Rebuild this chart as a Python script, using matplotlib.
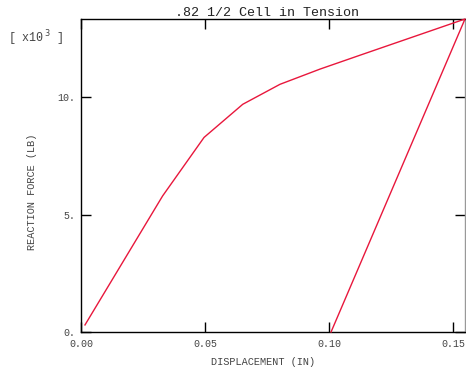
import matplotlib
matplotlib.use("Agg")
import matplotlib.pyplot as plt

# Load-displacement history (force in thousands of lb)
displacement = [0.0016, 0.0329, 0.0496, 0.0652, 0.0802, 0.0964, 0.1125, 0.1548, 0.1008]
force_k = [0.30, 5.79, 8.28, 9.69, 10.54, 11.19, 11.78, 13.32, 0.0]

x_ticks = [0.00, 0.05, 0.10, 0.15]
x_tick_labels = ["0.00", "0.05", "0.10", "0.15"]
y_ticks = [0, 5, 10]
y_tick_labels = ["0.", "5.", "10."]

MONO = ["Liberation Mono", "DejaVu Sans Mono"]
TXT = "#444444"

fig = plt.figure(figsize=(4.66, 3.71), dpi=100)
ax = fig.add_axes([81 / 466, 1 - 332 / 371, 384 / 466, 313 / 371])

ax.plot(displacement, force_k, color="#e8173c", lw=1.0, clip_on=False, zorder=3)

ax.set_xlim(0.0, 0.1548)
ax.set_ylim(0.0, 13.32)

ax.set_xticks(x_ticks)
ax.set_xticklabels(x_tick_labels)
ax.set_yticks(y_ticks)
ax.set_yticklabels(y_tick_labels)
ax.tick_params(direction="in", length=7, width=1.0, color="black",
               top=True, right=True, labelsize=7.2, labelcolor=TXT, pad=4)
ax.tick_params(axis="x", pad=5)
for lab in ax.get_xticklabels() + ax.get_yticklabels():
    lab.set_family(MONO)

for side in ("left", "bottom", "top"):
    ax.spines[side].set_color("black")
    ax.spines[side].set_linewidth(1.0)
ax.spines["right"].set_color("#999999")
ax.spines["right"].set_linewidth(1.0)

fig.text(267 / 466, 1 - 13 / 371, ".82 1/2 Cell in Tension", ha="center", va="center",
         fontsize=9.6, family=MONO, color="#222222")
fig.text(263 / 466, 1 - 362 / 371, "DISPLACEMENT (IN)", ha="center", va="center",
         fontsize=7.4, family=MONO, color=TXT)
fig.text(32 / 466, 1 - 192 / 371, "REACTION FORCE (LB)", ha="center", va="center",
         rotation=90, fontsize=7.4, family=MONO, color=TXT)
fig.text(8 / 466, 1 - 38 / 371, r"[ x10$^{\,3}$ ]", ha="left", va="center",
         fontsize=8.4, family=MONO, color=TXT)

fig.savefig("out.png", dpi=100)
